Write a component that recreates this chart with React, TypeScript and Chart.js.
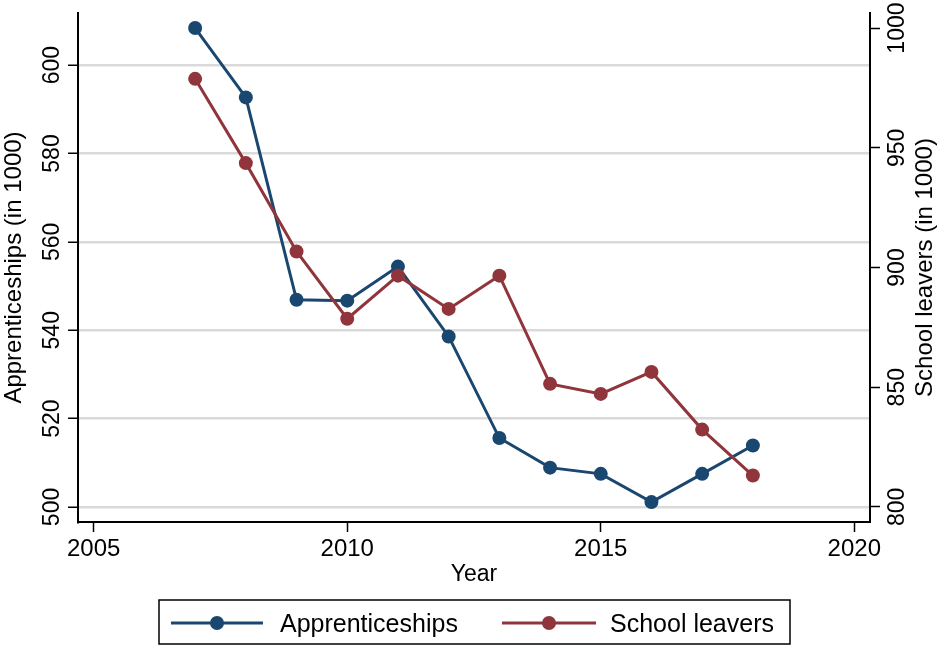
import React, { useEffect, useRef } from 'react';
import { Chart, registerables } from 'chart.js';

Chart.register(...registerables);

const years = [2007, 2008, 2009, 2010, 2011, 2012, 2013, 2014, 2015, 2016, 2017, 2018];
const apprenticeships = [608.4, 592.7, 546.9, 546.7, 554.4, 538.6, 515.6, 508.9, 507.5, 501.1, 507.5, 513.9];
const schoolLeavers = [978.8, 943.6, 906.7, 878.6, 896.6, 882.7, 896.6, 851.4, 847.2, 856.4, 832.3, 813.1];

const xTicks = [2005, 2010, 2015, 2020];
const leftTicks = [500, 520, 540, 560, 580, 600];
const rightTicks = [800, 850, 900, 950, 1000];
const xRange = [2004.69, 2020.31];
const leftRange = [496.6, 611.8];
const rightRange = [793.7, 1006.3];

const seriesLabels = ['Apprenticeships', 'School leavers'];
const leftTitle = 'Apprenticeships (in 1000)';
const rightTitle = 'School leavers (in 1000)';
const xTitle = 'Year';

const BLUE = '#1a476f';
const RED = '#90353b';
const FONT = '"Liberation Sans", Arial, Helvetica, sans-serif';

function drawVertical(ctx: CanvasRenderingContext2D, text: string, x: number, y: number, font: string) {
  ctx.save();
  ctx.translate(x, y);
  ctx.rotate(-Math.PI / 2);
  ctx.font = font;
  ctx.textAlign = 'center';
  ctx.textBaseline = 'alphabetic';
  ctx.fillText(text, 0, 0);
  ctx.restore();
}

const textPlugin = {
  id: 'stataText',
  afterDraw(chart: any) {
    const ctx: CanvasRenderingContext2D = chart.ctx;
    const { left, right, top, bottom } = chart.chartArea;
    const sx = chart.scales.x;
    const sy = chart.scales.y;
    const sy1 = chart.scales.y1;
    ctx.save();
    ctx.fillStyle = '#000';

    // x tick labels
    ctx.font = `24px ${FONT}`;
    ctx.textAlign = 'center';
    ctx.textBaseline = 'alphabetic';
    sx.ticks.forEach((t: any) => {
      ctx.fillText(String(t.value), sx.getPixelForValue(t.value), bottom + 34);
    });
    // x title
    ctx.font = `23px ${FONT}`;
    ctx.fillText(xTitle, (left + right) / 2, bottom + 59);

    // y tick labels
    sy.ticks.forEach((t: any) => {
      drawVertical(ctx, String(t.value), left - 19, sy.getPixelForValue(t.value), `23px ${FONT}`);
    });
    sy1.ticks.forEach((t: any) => {
      drawVertical(ctx, String(t.value), right + 34, sy1.getPixelForValue(t.value), `23px ${FONT}`);
    });
    const midY = (top + bottom) / 2;
    drawVertical(ctx, leftTitle, 21, midY, `24px ${FONT}`);
    drawVertical(ctx, rightTitle, right + 62, midY, `24px ${FONT}`);

    // legend
    const lx = 159, ly = 600, lw = 631, lh = 44;
    ctx.strokeStyle = '#000';
    ctx.lineWidth = 1.5;
    ctx.strokeRect(lx, ly, lw, lh);
    const cy = ly + 23;
    const items = [
      { color: BLUE, x0: 171, x1: 263, tx: 280, label: seriesLabels[0] },
      { color: RED, x0: 502, x1: 596, tx: 610, label: seriesLabels[1] },
    ];
    items.forEach((it) => {
      ctx.strokeStyle = it.color;
      ctx.lineWidth = 3;
      ctx.beginPath();
      ctx.moveTo(it.x0, cy);
      ctx.lineTo(it.x1, cy);
      ctx.stroke();
      ctx.fillStyle = it.color;
      ctx.beginPath();
      ctx.arc((it.x0 + it.x1) / 2, cy, 7, 0, Math.PI * 2);
      ctx.fill();
      ctx.fillStyle = '#000';
      ctx.font = `25px ${FONT}`;
      ctx.textAlign = 'left';
      ctx.textBaseline = 'alphabetic';
      ctx.fillText(it.label, it.tx, cy + 9);
    });
    ctx.restore();
  },
};

export default function App() {
  const canvasRef = useRef<HTMLCanvasElement | null>(null);

  useEffect(() => {
    if (!canvasRef.current) return;
    const chart = new Chart(canvasRef.current, {
      type: 'line',
      data: {
        datasets: [
          {
            label: seriesLabels[1],
            data: years.map((y, i) => ({ x: y, y: schoolLeavers[i] })),
            yAxisID: 'y1',
            borderColor: RED,
            backgroundColor: RED,
            pointBackgroundColor: RED,
            pointBorderWidth: 0,
            pointRadius: 7,
            borderWidth: 3,
            tension: 0,
            order: 0,
          },
          {
            label: seriesLabels[0],
            data: years.map((y, i) => ({ x: y, y: apprenticeships[i] })),
            yAxisID: 'y',
            borderColor: BLUE,
            backgroundColor: BLUE,
            pointBackgroundColor: BLUE,
            pointBorderWidth: 0,
            pointRadius: 7,
            borderWidth: 3,
            tension: 0,
            order: 1,
          },
        ],
      },
      options: {
        responsive: false,
        animation: false,
        devicePixelRatio: 1,
        layout: { padding: { top: 13, left: 0, right: 0, bottom: 0 } },
        plugins: { legend: { display: false }, tooltip: { enabled: false } },
        scales: {
          x: {
            type: 'linear',
            position: 'bottom',
            min: xRange[0],
            max: xRange[1],
            afterBuildTicks: (s: any) => { s.ticks = xTicks.map((v) => ({ value: v })); },
            afterFit: (s: any) => { s.height = 123; },
            ticks: { display: false },
            grid: { display: true, drawOnChartArea: false, drawTicks: true, tickLength: 10, tickColor: '#000', tickWidth: 1.5 },
            border: { display: true, color: '#000', width: 2 },
          },
          y: {
            type: 'linear',
            position: 'left',
            min: leftRange[0],
            max: leftRange[1],
            afterBuildTicks: (s: any) => { s.ticks = leftTicks.map((v) => ({ value: v })); },
            afterFit: (s: any) => { s.width = 78; },
            ticks: { display: false },
            grid: { display: true, drawOnChartArea: true, color: '#dadada', lineWidth: 2.5, drawTicks: true, tickLength: 10, tickColor: '#000', tickWidth: 1.5 },
            border: { display: true, color: '#000', width: 2 },
          },
          y1: {
            type: 'linear',
            position: 'right',
            min: rightRange[0],
            max: rightRange[1],
            afterBuildTicks: (s: any) => { s.ticks = rightTicks.map((v) => ({ value: v })); },
            afterFit: (s: any) => { s.width = 74; },
            ticks: { display: false },
            grid: { display: true, drawOnChartArea: false, drawTicks: true, tickLength: 10, tickColor: '#000', tickWidth: 1.5 },
            border: { display: true, color: '#000', width: 2 },
          },
        },
      },
      plugins: [textPlugin],
    });
    return () => chart.destroy();
  }, []);

  return (
    <div style={{ position: 'fixed', left: 0, top: 0, width: 944, height: 645, background: '#fff' }}>
      <canvas ref={canvasRef} width={944} height={645} style={{ display: 'block', width: 944, height: 645 }} />
    </div>
  );
}
